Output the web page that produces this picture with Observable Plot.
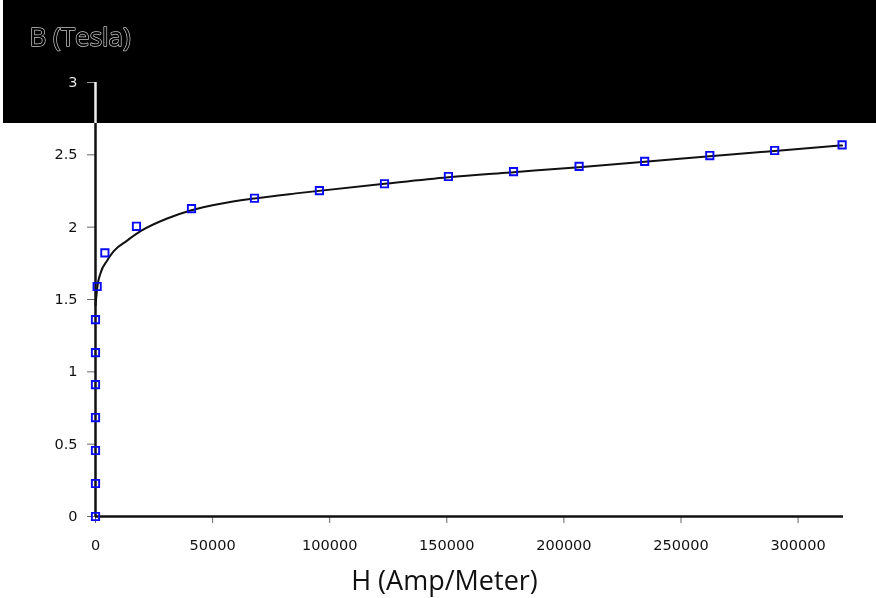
<!DOCTYPE html>
<html><head><meta charset="utf-8">
<script src="https://cdn.jsdelivr.net/npm/d3@7"></script>
<script src="https://cdn.jsdelivr.net/npm/@observablehq/plot@0.6"></script>
<style>
html,body{margin:0;padding:0;background:#fff;}
#wrap{position:relative;width:876px;height:598px;background:#fff;overflow:hidden;}
#band{position:absolute;left:3px;top:0;width:873px;height:123px;background:#fff;mix-blend-mode:difference;pointer-events:none;}
</style></head><body>
<div id="wrap"><div id="chart"></div><div id="band"></div></div>
<script>
// Measured points (H in A/m, B in Tesla)
const H_points = [0, 0, 0, 0, 0, 0, 0, 700, 4000, 17500, 41000, 67900, 95600, 123400, 150700, 178500, 206500, 234500, 262300, 290000, 318800];
const B_points = [0, 0.228, 0.456, 0.684, 0.912, 1.133, 1.361, 1.59, 1.822, 2.006, 2.128, 2.20, 2.253, 2.30, 2.35, 2.384, 2.42, 2.455, 2.495, 2.53, 2.569];
// Fitted curve
const H_fit = [0, 900, 2100, 5000, 7800, 13500, 19200, 30600, 40600, 53400, 67600, 87500, 123400, 150700, 178500, 206500, 234500, 262300, 290000, 318800];
const B_fit = [1.46, 1.6, 1.68, 1.77, 1.835, 1.907, 1.972, 2.06, 2.115, 2.162, 2.198, 2.237, 2.30, 2.345, 2.38, 2.415, 2.452, 2.49, 2.527, 2.565];
const xTicks = [0, 50000, 100000, 150000, 200000, 250000, 300000];
const yTicks = [0, 0.5, 1, 1.5, 2, 2.5, 3];
const xLabel = "H (Amp/Meter)";
const yLabel = "B (Tesla)";

const points = H_points.map((h, i) => ({H: h, B: B_points[i]}));
const fit = H_fit.map((h, i) => ({H: h, B: B_fit[i]}));

const chart = Plot.plot({
  width: 876,
  height: 598,
  marginLeft: 95,
  marginRight: 33,
  marginTop: 82,
  marginBottom: 82,
  style: {fontFamily: "DejaVu Sans", fontSize: "14.5px", background: "#fff", color: "#111"},
  x: {domain: [0, 319400]},
  y: {domain: [0, 3]},
  marks: [
    Plot.axisX({ticks: xTicks, tickFormat: d => String(d), tickSize: 7, tickPadding: 16, stroke: "#666", label: null, fill: "#111"}),
    Plot.axisY({ticks: yTicks, tickFormat: d => String(d), tickSize: 8, tickPadding: 10, stroke: "#666", label: null, fill: "#111"}),
    Plot.ruleY([0], {stroke: "#111", strokeWidth: 2.5}),
    Plot.ruleX([0], {stroke: "#111", strokeWidth: 2.5}),
    Plot.line(fit, {x: "H", y: "B", curve: "monotone-x", stroke: "#111", strokeWidth: 2}),
    Plot.dot(points, {x: "H", y: "B", symbol: "square", r: 4.1, stroke: "#0a0af5", strokeWidth: 1.9, fill: "none"}),
    Plot.text([xLabel], {frameAnchor: "bottom", dx: -25, dy: 65, lineAnchor: "middle", fontSize: 27, fontFamily: "Open Sans", fill: "#111"}),
    Plot.text([yLabel], {frameAnchor: "top-left", textAnchor: "start", dx: -66, dy: -45, lineAnchor: "middle", fontSize: 26, fontFamily: "Open Sans", fill: "white", stroke: "#333", strokeWidth: 1.5})
  ]
});
document.getElementById("chart").appendChild(chart);
</script>
</body></html>
